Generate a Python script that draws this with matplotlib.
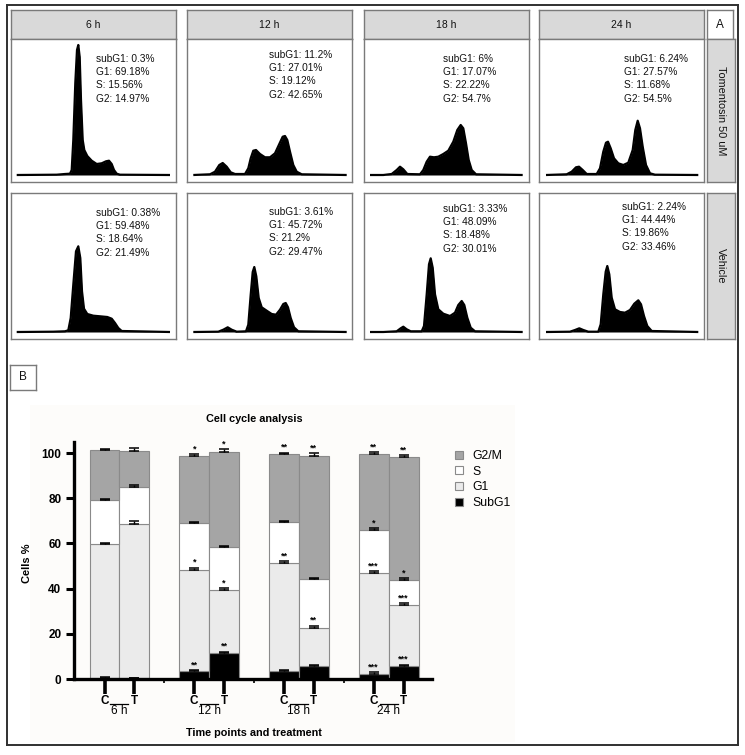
import matplotlib
matplotlib.use("Agg")
import matplotlib.pyplot as plt
import numpy as np
from matplotlib.patches import Patch

plt.rcParams['font.family'] = ['Liberation Sans', 'DejaVu Sans']

W, H = 745, 755
fig = plt.figure(figsize=(W / 100, H / 100), dpi=100)


def rect(x0, y0, x1, y1):
    return [x0 / W, 1 - y1 / H, (x1 - x0) / W, (y1 - y0) / H]


# ---------------- DATA: panel A ----------------
time_labels = ["6 h", "12 h", "18 h", "24 h"]
row_labels = ["Tomentosin 50 uM", "Vehicle"]

tom_stats = ["subG1: 0.3%\nG1: 69.18%\nS: 15.56%\nG2: 14.97%",
             "subG1: 11.2%\nG1: 27.01%\nS: 19.12%\nG2: 42.65%",
             "subG1: 6%\nG1: 17.07%\nS: 22.22%\nG2: 54.7%",
             "subG1: 6.24%\nG1: 27.57%\nS: 11.68%\nG2: 54.5%"]
veh_stats = ["subG1: 0.38%\nG1: 59.48%\nS: 18.64%\nG2: 21.49%",
             "subG1: 3.61%\nG1: 45.72%\nS: 21.2%\nG2: 29.47%",
             "subG1: 3.33%\nG1: 48.09%\nS: 18.48%\nG2: 30.01%",
             "subG1: 2.24%\nG1: 44.44%\nS: 19.86%\nG2: 33.46%"]

# histogram outlines (channel position, count height)
tom_6_x = [5.7, 45.7, 54, 59, 60.7, 62.3, 64.3, 66, 67.3, 68.7, 70, 71.7, 73.3, 76.3, 80.7, 85.7,
           90.7, 95, 98, 100.7, 103, 105.7, 109, 159]
tom_6_y = [0, 0.3, 1, 1.3, 5, 35, 92, 125, 130, 118, 75, 35, 25, 19, 14.3, 11,
           11.7, 13.7, 14.3, 11, 5, 1.3, 0.3, 0]
tom_12_x = [6.3, 23, 28, 32.3, 35.7, 39.7, 43.7, 48, 58, 61.3, 63.7, 66.3, 69, 73, 78, 83, 88,
            92.3, 95.7, 98, 100.3, 103, 106.3, 109.7, 114.7, 159.7]
tom_12_y = [0, 0.7, 3.3, 10, 12, 8.3, 2.7, 1, 1, 6.7, 16.7, 24.3, 25, 21, 17.7, 17.7, 21.7,
            31, 38.3, 39, 35, 23.3, 10, 3.3, 0.7, 0]
tom_18_x = [6, 19.3, 27.7, 32.7, 36, 39.3, 43.3, 56, 59.3, 62.7, 66, 70, 74.3, 79.3, 84.3, 89.3,
            93.3, 96.7, 99.3, 102, 104.7, 107.7, 112, 158.7]
tom_18_y = [0, 0, 1, 5, 8.3, 5.7, 1, 0.7, 5, 13.3, 18.3, 17.7, 18.3, 21, 24.3, 33.3,
            45, 50, 46.7, 31.7, 15, 5, 0.7, 0]
tom_24_x = [7, 27.7, 32.7, 37, 40, 43.7, 47.7, 57.7, 61, 64.3, 67, 69, 71.7, 75, 79.3, 84.3,
            89.3, 93.7, 96.3, 98.7, 101, 103.7, 107, 111, 116, 159.3]
tom_24_y = [0, 0.7, 3.3, 7.7, 8.3, 5, 1, 1, 6.7, 23.3, 32.3, 33.3, 26.7, 16.7, 11.7, 10,
            12.3, 25, 45, 54.3, 46.7, 28.3, 10, 1.7, 0.3, 0]

veh_6_x = [5.7, 42.3, 54, 57.3, 59.7, 62.3, 65, 67.3, 69.3, 71, 73, 76.3, 82.3, 89, 96.3,
           100.7, 104, 107.3, 110.7, 159]
veh_6_y = [0, 0.3, 0.7, 1.7, 14, 47.3, 80.7, 85.7, 74, 40.7, 23.3, 18, 16.3, 15.7, 15,
           13.3, 9, 4, 1, 0]
veh_12_x = [6.3, 31.3, 36.3, 40.7, 44.7, 49.7, 59, 61.3, 63.7, 65.7, 67.3, 69.3, 71.7, 74.7,
            79.7, 84.7, 89, 93, 96.3, 98.7, 101, 103.7, 107, 111.3, 159.7]
veh_12_y = [0, 0.3, 2.3, 4.7, 2.3, 0.3, 0.7, 7.3, 37.3, 60, 65, 55.7, 34, 24.7,
            21.3, 18, 17.3, 22.3, 28, 29, 24.7, 14, 4.7, 0.7, 0]
veh_18_x = [6, 19.3, 32.7, 36.7, 39.3, 42.7, 46.7, 57.7, 60, 62.7, 65, 66.7, 68.7, 71, 74.3,
            79.3, 86, 91, 94.3, 97.7, 100.3, 103.3, 106.7, 111, 158.7]
veh_18_y = [0, 0, 0.7, 3.7, 5.3, 2.7, 0.7, 0.7, 6, 37.7, 67.7, 73.7, 64.3, 37.7, 22.7,
            18.3, 16, 19.3, 27, 31, 27, 14.3, 4.3, 0.7, 0]
veh_24_x = [7, 31, 36, 40.3, 44.3, 49.3, 59.3, 61.7, 64.3, 66.7, 68.3, 70.3, 72.7, 76, 81,
            86, 91, 95.3, 99.3, 102, 105, 108.3, 112.7, 159.3]
veh_24_y = [0, 0.3, 2, 3.7, 2, 0.3, 0.3, 7.7, 37.7, 60.3, 66, 57.7, 34.3, 22.7, 20,
            19.3, 22, 28.3, 31.7, 27.7, 16, 6, 1, 0]

tom_curves = [(tom_6_x, tom_6_y), (tom_12_x, tom_12_y), (tom_18_x, tom_18_y), (tom_24_x, tom_24_y)]
veh_curves = [(veh_6_x, veh_6_y), (veh_12_x, veh_12_y), (veh_18_x, veh_18_y), (veh_24_x, veh_24_y)]

# ---------------- DATA: panel B ----------------
groups = ["6 h", "12 h", "18 h", "24 h"]
treat = ["C", "T"]
phases = ["SubG1", "G1", "S", "G2/M"]
phase_colors = {"SubG1": "#000000", "G1": "#ebebeb", "S": "#ffffff", "G2/M": "#a5a5a5"}
# bar order: 6hC, 6hT, 12hC, 12hT, 18hC, 18hT, 24hC, 24hT
subg1 = [0.4, 0.3, 3.4, 11.5, 3.4, 5.6, 2.4, 5.9]
g1 = [59.5, 68.4, 45.0, 27.7, 47.9, 17.0, 44.5, 26.8]
s_phase = [19.2, 16.3, 20.6, 19.2, 18.2, 21.6, 18.9, 11.1]
g2m = [22.1, 15.7, 29.8, 41.9, 30.2, 54.6, 33.9, 54.4]
err_subg1 = [0.3, 0.3, 0.4, 0.6, 0.4, 0.7, 0.5, 0.5]
err_g1 = [0.4, 1.2, 0.9, 1.0, 0.8, 1.0, 0.9, 0.8]
err_s = [0.7, 0.8, 0.7, 0.5, 0.6, 0.6, 1.0, 0.7]
err_g2m = [0.4, 1.4, 0.6, 1.5, 0.5, 1.2, 0.6, 1.0]
sig_subg1 = ["", "", "**", "**", "", "", "***", "***"]
sig_g1 = ["", "", "*", "*", "**", "**", "***", "***"]
sig_s = ["", "", "", "", "", "", "*", "*"]
sig_g2m = ["", "", "*", "*", "**", "**", "**", "**"]

# ---------------- layout / frames ----------------
edge_col = "#7a7a7a"
strip_col = "#d9d9d9"

frame = fig.add_axes(rect(7, 5, 738, 745))
frame.set_xticks([]); frame.set_yticks([])
frame.patch.set_alpha(0)
for sp in frame.spines.values():
    sp.set_color("#303030"); sp.set_linewidth(1.4)
frame.set_zorder(-5)

bgax = fig.add_axes(rect(30, 405, 515, 742))
bgax.set_facecolor("#fdfcfa")
bgax.set_xticks([]); bgax.set_yticks([])
for sp in bgax.spines.values():
    sp.set_visible(False)
bgax.set_zorder(-4)


def box(x0, y0, x1, y1, fc, text=None, rot=0, fs=7.5):
    a = fig.add_axes(rect(x0, y0, x1, y1))
    a.set_facecolor(fc)
    a.set_xticks([]); a.set_yticks([])
    for sp in a.spines.values():
        sp.set_color(edge_col); sp.set_linewidth(1.0)
    if text is not None:
        a.text(0.5, 0.5, text, ha="center", va="center", rotation=rot, fontsize=fs,
               transform=a.transAxes, color="#111111")
    return a


col_left = [11, 187, 364, 539]
col_w = 165
rows = [(39, 182), (193, 339)]
text_off = [[21, 17, 21, 21], [21, 20, 17, 15]]
text_x = [85, 82, 78.7, 85]
text_x2 = [85, 82, 78.7, 82.7]

for j, lab in enumerate(time_labels):
    box(col_left[j], 10, col_left[j] + col_w, 39, strip_col, lab)
box(707, 10, 733, 39, "white", "A", fs=8.5)

for r, (y0, y1) in enumerate(rows):
    box(707, y0, 735, y1, strip_col, row_labels[r], rot=270, fs=7.8)
    hgt = y1 - y0
    curves = tom_curves if r == 0 else veh_curves
    stats = tom_stats if r == 0 else veh_stats
    for j in range(4):
        ax = fig.add_axes(rect(col_left[j], y0, col_left[j] + col_w, y1))
        ax.set_xlim(0, col_w)
        ax.set_ylim(-7, hgt - 7)
        ax.set_xticks([]); ax.set_yticks([])
        for sp in ax.spines.values():
            sp.set_color(edge_col); sp.set_linewidth(1.0)
        xs, ys = curves[j]
        ax.fill_between(xs, 0, ys, color="black", lw=0)
        ax.plot(xs, ys, color="black", lw=1.6, solid_capstyle="butt")
        tx = text_x[j] if r == 0 else text_x2[j]
        ax.text(tx, hgt - 7 - text_off[r][j] + 6, stats[j], ha="left", va="top",
                fontsize=7.3, linespacing=1.4, color="#111111")

box(10, 365, 36, 390, "white", "B", fs=8.5)

# ---------------- panel B chart ----------------
axb = fig.add_axes(rect(74, 442, 432, 679))
axb.patch.set_alpha(0)
xpos = []
for g in range(4):
    xpos += [3 * g, 3 * g + 1]
xpos = np.array(xpos, dtype=float)

segs = [(subg1, err_subg1, sig_subg1, "SubG1"),
        (g1, err_g1, sig_g1, "G1"),
        (s_phase, err_s, sig_s, "S"),
        (g2m, err_g2m, sig_g2m, "G2/M")]
bottom = np.zeros(8)
handles = {}
for vals, errs, sigs, name in segs:
    vals = np.array(vals)
    axb.bar(xpos, vals, width=1.0, bottom=bottom, color=phase_colors[name],
            edgecolor="#8a8a8a", linewidth=0.8, zorder=2)
    top = bottom + vals
    axb.errorbar(xpos, top, yerr=[np.zeros(8), errs], fmt="none", ecolor="black",
                 elinewidth=1.0, capsize=3.8, capthick=1.1, zorder=3)
    for xi, t, e, s in zip(xpos, top, errs, sigs):
        if s:
            axb.text(xi, t + e + 0.3, s, ha="center", va="bottom", fontsize=6.5,
                     fontweight="bold", color="black", zorder=4)
    handles[name] = Patch(facecolor=phase_colors[name], edgecolor="#8a8a8a", linewidth=0.8)
    bottom = top

axb.set_xlim(-1.02, 10.95)
axb.set_ylim(0, 104.9)
for sp in ["top", "right"]:
    axb.spines[sp].set_visible(False)
axb.spines["left"].set_linewidth(2.4)
axb.spines["bottom"].set_linewidth(2.4)
axb.set_yticks([0, 20, 40, 60, 80, 100])
axb.tick_params(axis="y", width=2.2, length=6, labelsize=8.5, pad=3)
for lb in axb.get_yticklabels():
    lb.set_fontweight("bold")
axb.set_xticks(xpos)
axb.set_xticklabels(treat * 4, fontweight="bold", fontsize=8.5)
axb.tick_params(axis="x", width=2.6, length=11, pad=0.5)
axb.set_xticks([2, 5, 8], minor=True)
axb.tick_params(axis="x", which="minor", width=1.2, length=3)

tr = axb.get_xaxis_transform()
for g, lab in enumerate(groups):
    axb.plot([3 * g + 0.2, 3 * g + 0.8], [-0.105, -0.105], color="black", lw=0.9,
             transform=tr, clip_on=False)
    axb.text(3 * g + 0.5, -0.135, lab, ha="center", va="center", fontsize=8.5,
             transform=tr)

fig.text(254 / W, 1 - 419 / H, "Cell cycle analysis", ha="center", va="center",
         fontsize=7.8, fontweight="bold")
fig.text(254 / W, 1 - 733 / H, "Time points and treatment", ha="center", va="center",
         fontsize=7.8, fontweight="bold")
fig.text(27 / W, 1 - 563 / H, "Cells %", ha="center", va="center", rotation=90,
         fontsize=8, fontweight="bold")

leg_order = ["G2/M", "S", "G1", "SubG1"]
fig.legend([handles[n] for n in leg_order], leg_order, loc="upper left",
           bbox_to_anchor=(455 / W, 1 - 450 / H), frameon=False, fontsize=8.8,
           handlelength=0.65, handleheight=0.65, handletextpad=0.75,
           labelspacing=0.3, borderaxespad=0, borderpad=0)

fig.savefig("out.png", dpi=100)
